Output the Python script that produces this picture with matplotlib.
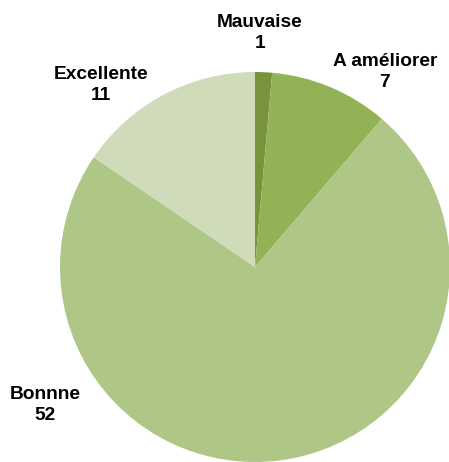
import matplotlib
matplotlib.use('Agg')
import matplotlib.pyplot as plt

categories = ['Mauvaise', 'A améliorer', 'Bonnne', 'Excellente']
counts = [1, 7, 52, 11]
colors = ['#77933C', '#92B256', '#AEC686', '#CFDBB9']

# label anchors (pixel position, y from top)
label_x = [260, 385, 45, 101]
label_y = [33, 72, 405, 85]

W, H = 449, 462
fig = plt.figure(figsize=(W / 100, H / 100), dpi=100)
ax = fig.add_axes([0, 0, 1, 1])

cx, cy, r = 255, H - 267, 195
ax.pie(counts, colors=colors, startangle=90, counterclock=False,
       center=(cx, cy), radius=r, wedgeprops=dict(linewidth=0))

for name, n, x, y in zip(categories, counts, label_x, label_y):
    ax.text(x, H - y, f'{name}\n{n}', ha='center', va='center',
            fontsize=13.8, fontweight='bold', family='Liberation Sans',
            linespacing=1.3)

ax.set_xlim(0, W)
ax.set_ylim(0, H)
ax.set_aspect('equal')
ax.axis('off')

fig.savefig('out.png', dpi=100)
